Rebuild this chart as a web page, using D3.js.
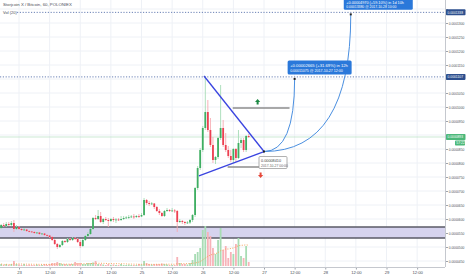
<!DOCTYPE html>
<html>
<head>
<meta charset="utf-8">
<script src="https://cdn.jsdelivr.net/npm/d3@7"></script>
<style>
  body { margin: 0; background: #fff; }
  svg { display: block; font-family: "Liberation Sans", Arial, sans-serif; }
</style>
</head>
<body>
<svg id="chart"></svg>
<script>
// STORJ/BTC 1h candles from 2017-10-22 17:00, prices in satoshi
const firstCandle = new Date(2017, 9, 22, 17);
const opens = [5679,5786,5750,5821,5786,5857,5643,5714,5643,5607,5625,5571,5554,5536,5500,5518,5464,5482,5429,5411,
  5357,5250,5107,5000,5071,5214,5179,5286,5250,5321,5286,5179,5036,5250,5393,5464,5643,6036,6000,6107,
  5893,6000,5964,5929,6000,5964,5982,5964,6000,6036,6054,6071,6089,6071,6107,6089,6143,6679,6571,6536,
  6554,6429,6286,6214,6107,6286,6321,6286,6304,6286,5893,5929,5893,5857,5875,5964,6143,7107,7821,8464,
  9250,9821,9179,8643,8107,8214,8893,9250,8643,8464,8250,8107,8500,8179,8714,8821,8464,8964];
const highs = [5821,5857,5893,5893,5929,5964,5786,5750,5679,5679,5643,5607,5571,5571,5536,5536,5500,5500,5464,5429,
  5393,5286,5143,5107,5250,5250,5321,5321,5357,5357,5321,5250,5286,5429,5536,5679,6071,6143,6321,6250,
  6036,6071,6036,6036,6071,6036,6036,6107,6107,6107,6143,6143,6179,6143,6179,6214,6750,6714,6643,6607,
  6571,6464,6357,6250,6321,6393,6357,6393,6357,6321,6000,5964,5929,5929,6000,6179,7143,7893,8536,9321,
  11107,10250,9607,8929,8250,8929,10786,9536,9071,8607,8464,8536,8536,9179,8893,8893,9000,9036];
const lows = [5643,5714,5714,5750,5750,5536,5607,5607,5571,5571,5536,5518,5500,5464,5464,5429,5429,5393,5375,5321,
  5214,5071,4929,4964,5036,5143,5143,5214,5214,5250,5143,4964,5000,5214,5357,5429,5607,5964,5964,5857,
  5821,5929,5714,5893,5893,5857,5929,5929,5964,6000,6000,6036,6000,6036,6036,6071,6107,6500,6464,6500,
  6357,6250,6143,6071,6071,6250,6250,6250,6214,5536,5857,5821,5786,5821,5821,5893,6071,7036,7750,8393,
  9179,9107,8571,8000,7964,8143,8821,8571,8393,8179,8036,8000,8036,8143,8536,8393,8393,8893];
const closes = [5786,5750,5821,5786,5857,5643,5714,5643,5607,5625,5571,5554,5536,5500,5518,5464,5482,5429,5411,5357,
  5250,5107,5000,5071,5214,5179,5286,5250,5321,5286,5179,5036,5250,5393,5464,5643,6036,6000,6107,5893,
  6000,5964,5929,6000,5964,5982,5964,6000,6036,6054,6071,6089,6071,6107,6089,6143,6679,6571,6536,6554,
  6429,6286,6214,6107,6286,6321,6286,6304,6286,5893,5929,5893,5857,5875,5964,6143,7107,7821,8464,9250,
  9821,9179,8643,8107,8214,8893,9250,8643,8464,8250,8107,8500,8179,8714,8821,8464,8964,8929];
const volumes = [2,1,2,1,2,5,2,1.5,1,2,1,1.5,1,1,1.5,1,1,2,1,2,
  3,3,4,3,2,2,1.5,2,2,4,3,3,2,2,3,3,3.5,5,2,2,
  1.5,1,2,1,1.5,1,1,2,1,1,1.5,1,1,1,2,1.5,5,3,2,1.5,
  2,2,2,2.5,2,1.5,1,1,1,9,3,2,2,1.5,3,6,12,14,18,36,
  40,34,30,18,12,26,38,16,20,8,14,12,22,28,10,8,20,4];

const priceTicks = d3.range(4500, 13501, 500);
const supportZone = [5320, 5715];

// triangle drawing and projections
const triUpper = [{t: new Date(2017, 9, 26, 0, 30), p: 11107}, {t: new Date(2017, 9, 27, 0), p: 8410}];
const triLower = [{t: new Date(2017, 9, 25, 22, 30), p: 7540}, {t: new Date(2017, 9, 27, 0), p: 8410}];
const targets = [
  {t: new Date(2017, 9, 27, 12), p: 11075, span: "12h"},
  {t: new Date(2017, 9, 28, 10), p: 13380, span: "1d 10h"}
];
const rangeLines = [
  {t0: new Date(2017, 9, 26, 11, 45), t1: new Date(2017, 9, 27, 10), p: 9964},
  {t0: new Date(2017, 9, 26, 9, 45), t1: new Date(2017, 9, 27, 8), p: 7857}
];
const upArrow = {t: new Date(2017, 9, 26, 21, 30), p: 10180};
const downArrow = {t: new Date(2017, 9, 26, 22, 40), p: 7570};

const w = 466, h = 275;
const plotR = 445, plotB = 267;

const svg = d3.select("#chart").attr("width", w).attr("height", h);

const x = d3.scaleTime()
  .domain([new Date(2017, 9, 23), new Date(2017, 9, 29)])
  .range([19, 386.5]);
const y = d3.scaleLinear().domain([4500, 13500]).range([261, 9]);
const yVol = d3.scaleLinear().domain([0, 100]).range([266, 166]);

const fmt = v => (v / 1e8).toFixed(7);
const fmt8 = v => (v / 1e8).toFixed(8);
const tf = d3.timeFormat("%Y-%m-%d %H:%M");

svg.append("defs").append("clipPath").attr("id", "plot")
  .append("rect").attr("width", plotR).attr("height", plotB);

// grid
const timeTicks = d3.timeHour.every(12).range(x.invert(0), x.invert(plotR));
svg.append("g").selectAll("line").data(timeTicks).join("line")
  .attr("x1", d => x(d)).attr("x2", d => x(d))
  .attr("y1", 0).attr("y2", plotB)
  .attr("stroke", "#eef1f6").attr("stroke-width", 1);
svg.append("g").selectAll("line").data(priceTicks).join("line")
  .attr("x1", 0).attr("x2", plotR)
  .attr("y1", d => y(d)).attr("y2", d => y(d))
  .attr("stroke", "#eef1f6").attr("stroke-width", 1);

const g = svg.append("g").attr("clip-path", "url(#plot)");

// support zone
g.append("rect")
  .attr("x", 0).attr("width", plotR)
  .attr("y", y(supportZone[1])).attr("height", y(supportZone[0]) - y(supportZone[1]))
  .attr("fill", "#d6d3ee");
g.selectAll(".zone").data(supportZone).join("line")
  .attr("x1", 0).attr("x2", plotR)
  .attr("y1", d => y(d)).attr("y2", d => y(d))
  .attr("stroke", "#5a5a66").attr("stroke-width", 1.4);

const candles = closes.map((c, i) => ({
  t: d3.timeHour.offset(firstCandle, i),
  o: opens[i], h: highs[i], l: lows[i], c: c, v: volumes[i]
}));

// volume
g.append("g").selectAll("rect").data(candles).join("rect")
  .attr("x", d => x(d.t) - 0.9).attr("width", 1.8)
  .attr("y", d => yVol(d.v)).attr("height", d => yVol(0) - yVol(d.v))
  .attr("fill", d => d.c >= d.o ? "#a8dcb4" : "#f7b2b8");

const volMA = candles.map((d, i) => ({
  t: d.t,
  v: d3.mean(volumes.slice(Math.max(0, i - 19), i + 1))
}));
g.append("path").datum(volMA)
  .attr("fill", "none").attr("stroke", "#f7a35c").attr("stroke-width", 1)
  .attr("stroke-dasharray", "1,1.5")
  .attr("d", d3.line().x(d => x(d.t)).y(d => yVol(d.v)));

// current price line
const last = candles[candles.length - 1];
g.append("line").attr("x1", 0).attr("x2", plotR)
  .attr("y1", y(last.c)).attr("y2", y(last.c))
  .attr("stroke", "#bfe3c9").attr("stroke-width", 0.8);

// candles
const cg = g.append("g");
cg.selectAll("line").data(candles).join("line")
  .attr("x1", d => x(d.t)).attr("x2", d => x(d.t))
  .attr("y1", d => y(d.h)).attr("y2", d => y(d.l))
  .attr("stroke", d => d.c >= d.o ? "#a6dbb6" : "#f6a9b1").attr("stroke-width", 0.9);
cg.selectAll("rect").data(candles).join("rect")
  .attr("x", d => x(d.t) - 0.9).attr("width", 1.8)
  .attr("y", d => y(Math.max(d.o, d.c)))
  .attr("height", d => Math.max(0.8, Math.abs(y(d.o) - y(d.c))))
  .attr("fill", d => d.c >= d.o ? "#3fae62" : "#ec3f51");

// target dotted lines
g.selectAll(".tgt").data(targets).join("line")
  .attr("x1", (d, i) => i === 1 ? 17 : 0).attr("x2", plotR)
  .attr("y1", d => y(d.p)).attr("y2", d => y(d.p))
  .attr("stroke", "#6a80b5").attr("stroke-width", 1)
  .attr("stroke-dasharray", "1.2,1.6");

// range lines and arrows
g.selectAll(".rng").data(rangeLines).join("line")
  .attr("x1", d => x(d.t0)).attr("x2", d => x(d.t1))
  .attr("y1", d => y(d.p)).attr("y2", d => y(d.p))
  .attr("stroke", "#8c8c8c").attr("stroke-width", 1.3);
function arrow(pt, up, color) {
  const cx = x(pt.t), cy = y(pt.p), s = up ? -1 : 1;
  g.append("path")
    .attr("d", `M${cx},${cy + s * 3} L${cx - 2.6},${cy} L${cx - 1},${cy} L${cx - 1},${cy - s * 2.5} L${cx + 1},${cy - s * 2.5} L${cx + 1},${cy} L${cx + 2.6},${cy} Z`)
    .attr("fill", color);
}
arrow(upArrow, true, "#1e8a45");
arrow(downArrow, false, "#e5483a");

// triangle
const lineGen = d3.line().x(d => x(d.t)).y(d => y(d.p));
[triUpper, triLower].forEach(seg => {
  g.append("path").attr("d", lineGen(seg))
    .attr("stroke", "#3a44e0").attr("stroke-width", 1.3).attr("fill", "none");
});

// projection curves
const apex = triUpper[1];
const ax = x(apex.t), ay = y(apex.p);
targets.forEach(tg => {
  const tx = x(tg.t), ty = y(tg.p);
  const p = d3.path();
  p.moveTo(ax, ay);
  p.quadraticCurveTo(tx, ay, tx, ty + 2);
  g.append("path").attr("d", p.toString())
    .attr("stroke", "#4a8fe0").attr("stroke-width", 1).attr("fill", "none");
  g.append("rect").attr("x", tx - 1).attr("y", ty + 1).attr("width", 2).attr("height", 2).attr("fill", "#222");
});
g.append("rect").attr("x", ax - 1).attr("y", ay - 1).attr("width", 2).attr("height", 2).attr("fill", "#222");

// apex label
const lab = g.append("g").attr("transform", `translate(${ax - 5},${ay + 5})`);
lab.append("rect").attr("width", 28).attr("height", 12).attr("rx", 1)
  .attr("fill", "#fff").attr("stroke", "#9a9a9a").attr("stroke-width", 0.8);
lab.append("text").attr("x", 2).attr("y", 5).attr("font-size", 3.8).attr("fill", "#444").text(fmt8(apex.p));
lab.append("text").attr("x", 2).attr("y", 10).attr("font-size", 3.4).attr("fill", "#666").text(tf(apex.t));

// target labels
targets.forEach((tg, i) => {
  const tx = x(tg.t), ty = y(tg.p);
  const diff = tg.p - apex.p, pct = diff / apex.p * 100;
  const bw = i === 0 ? 64 : 69;
  const top = Math.max(0, ty - 16.5), bottom = ty - 2.5;
  const bh = bottom - top;
  const small = bh < 12;
  const box = g.append("g").attr("transform", `translate(${tx - 7},${top})`);
  box.append("rect").attr("y", small ? -2 : 0).attr("width", bw).attr("height", small ? bh + 2 : bh)
    .attr("rx", 1.5).attr("fill", "#2a78da");
  box.append("text").attr("x", 2.5).attr("y", small ? 3.6 : bh - 7.5)
    .attr("font-size", small ? 3.8 : 4.2).attr("fill", "#fff")
    .text(`+${fmt8(diff)} (+${pct.toFixed(2)}%) in ${tg.span}`);
  box.append("text").attr("x", 2.5).attr("y", small ? 8.2 : bh - 2.2)
    .attr("font-size", small ? 3.4 : 3.6).attr("fill", "#fff")
    .text(`${fmt8(tg.p)} @ ${tf(tg.t)}`);
});

// axes frame
svg.append("line").attr("x1", plotR + 0.5).attr("x2", plotR + 0.5).attr("y1", 0).attr("y2", plotB)
  .attr("stroke", "#c5c8ce").attr("stroke-width", 1);
svg.append("line").attr("x1", 0).attr("x2", plotR).attr("y1", plotB + 0.5).attr("y2", plotB + 0.5)
  .attr("stroke", "#c5c8ce").attr("stroke-width", 1);

// price axis, tick labels under the badges are hidden
const badgeYs = targets.map(tg => y(tg.p)).concat([y(last.c), y(last.c) + 6]);

const yAxis = svg.append("g").attr("transform", `translate(${plotR + 1},0)`)
  .call(d3.axisRight(y).tickValues(priceTicks).tickFormat(fmt).tickSize(2).tickPadding(0.8));
yAxis.select(".domain").remove();
yAxis.selectAll("line").attr("stroke", "#9ea3ab");
yAxis.selectAll("text")
  .attr("font-size", 3.7).attr("fill", "#4a4e57")
  .attr("font-family", "Liberation Sans, Arial, sans-serif")
  .attr("textLength", 15.5).attr("lengthAdjust", "spacingAndGlyphs")
  .attr("opacity", d => badgeYs.some(b => Math.abs(b - y(d)) < 5.5) ? 0 : 1);

// time axis
const xAxis = svg.append("g").attr("transform", `translate(0,${plotB + 1})`)
  .call(d3.axisBottom(x).tickValues(timeTicks)
    .tickFormat(d => d.getHours() === 0 ? d3.timeFormat("%-d")(d) : "12:00")
    .tickSize(1.5).tickPadding(1.5));
xAxis.select(".domain").remove();
xAxis.selectAll("line").attr("stroke", "#9ea3ab");
xAxis.selectAll("text").attr("font-size", 4.2).attr("fill", "#4a4e57").attr("font-family", "Liberation Sans, Arial, sans-serif");

// price axis badges
function badge(p, text, color) {
  const yy = y(p);
  svg.append("rect").attr("x", plotR + 1).attr("y", yy - 3).attr("width", 19.5).attr("height", 6)
    .attr("rx", 0.8).attr("fill", color);
  svg.append("text").attr("x", plotR + 2.5).attr("y", yy + 1.4).attr("font-size", 3.7)
    .attr("textLength", 15.5).attr("lengthAdjust", "spacingAndGlyphs")
    .attr("fill", "#fff").text(text);
}
targets.forEach(tg => badge(tg.p, fmt(tg.p), "#2d4f8e"));
badge(last.c, fmt(last.c), "#4cb87a");
svg.append("rect").attr("x", plotR + 10).attr("y", y(last.c) + 3.5).attr("width", 10).attr("height", 5)
  .attr("rx", 0.8).attr("fill", "#4cb87a");
svg.append("text").attr("x", plotR + 11.2).attr("y", y(last.c) + 7.3).attr("font-size", 3.5)
  .attr("fill", "#fff").text("57:22");

// titles
svg.append("text").attr("x", 3).attr("y", 6).attr("font-size", 4.3).attr("fill", "#4a4e57")
  .text("Storjcoin X / Bitcoin, 60, POLONIEX");
svg.append("text").attr("x", 3).attr("y", 13.5).attr("font-size", 4.0).attr("fill", "#4a4e57")
  .text("Vol (20)");
</script>
</body>
</html>
